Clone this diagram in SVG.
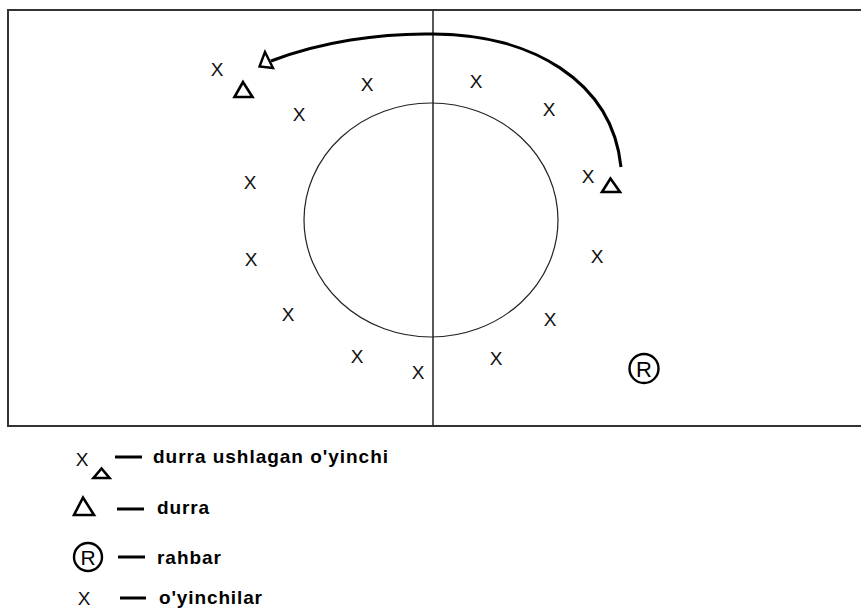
<svg xmlns="http://www.w3.org/2000/svg" width="861" height="608" viewBox="0 0 861 608">
<style>
.x{font-family:"Liberation Sans",Arial,sans-serif;font-size:19px;fill:#111;text-anchor:middle}
.tri{fill:none;stroke:#000;stroke-width:2.6;stroke-linejoin:miter}
.rc{fill:none;stroke:#000;stroke-width:2.4}
.rl{font-family:"Liberation Sans",Arial,sans-serif;font-size:22px;fill:#000;text-anchor:middle}
.dash{stroke:#000;stroke-width:3}
.lt{font-family:"Liberation Sans",Arial,sans-serif;font-size:19px;font-weight:bold;fill:#000}
</style>
<rect width="861" height="608" fill="#fff"/>
<g id="field">
<path d="M870,10 H8 V426 H870" fill="none" stroke="#333" stroke-width="2"/>
<line x1="433" y1="10" x2="433" y2="426" stroke="#222" stroke-width="1.5"/>
<ellipse cx="431" cy="220" rx="127" ry="117" fill="none" stroke="#222" stroke-width="1.2"/>
</g>
<g id="players">
<text class="x" x="217" y="76">X</text>
<text class="x" x="367" y="91">X</text>
<text class="x" x="299" y="121">X</text>
<text class="x" x="250" y="189">X</text>
<text class="x" x="251" y="266">X</text>
<text class="x" x="288" y="321">X</text>
<text class="x" x="357" y="363">X</text>
<text class="x" x="418" y="379">X</text>
<text class="x" x="476" y="88">X</text>
<text class="x" x="549" y="116">X</text>
<text class="x" x="588" y="183">X</text>
<text class="x" x="597" y="263">X</text>
<text class="x" x="550" y="326">X</text>
<text class="x" x="496" y="365">X</text>
</g>
<g id="durra1"><polygon class="tri" points="243,82 234.5,97 252.5,97"/></g>
<g id="durra2"><polygon class="tri" points="610.5,178.5 602,192 620,192"/></g>
<g id="rahbar">
<circle class="rc" cx="644" cy="368.5" r="14.5"/>
<text class="rl" x="644" y="376.5">R</text>
</g>
<g id="connectors">
<path d="M621,167 C612,80 530,34 433,34 C380,33 320,42 271,61" fill="none" stroke="#000" stroke-width="3"/>
<polygon points="265,52 259.5,66.5 273,68" fill="#fff" stroke="#000" stroke-width="2.4" stroke-linejoin="miter"/>
</g>
<g id="legend">
<g id="leg1">
<text class="x" x="82" y="466">X</text>
<polygon class="tri" points="101.5,468.5 93.5,478 109.5,478"/>
<line class="dash" x1="115" y1="457" x2="142" y2="457"/>
<text class="lt" x="153" y="463" textLength="235" lengthAdjust="spacing">durra ushlagan o'yinchi</text>
</g>
<g id="leg2">
<polygon class="tri" points="83,497.5 74,515 94,515"/>
<line class="dash" x1="117" y1="509" x2="144" y2="509"/>
<text class="lt" x="157" y="514" textLength="52" lengthAdjust="spacing">durra</text>
</g>
<g id="leg3">
<circle class="rc" cx="88" cy="557" r="14"/>
<text class="rl" x="88" y="564.5" style="font-size:21px">R</text>
<line class="dash" x1="118" y1="557" x2="145" y2="557"/>
<text class="lt" x="157" y="564" textLength="64" lengthAdjust="spacing">rahbar</text>
</g>
<g id="leg4">
<text class="x" x="84" y="605">X</text>
<line class="dash" x1="120" y1="598" x2="146" y2="598"/>
<text class="lt" x="159" y="604" textLength="103" lengthAdjust="spacing">o'yinchilar</text>
</g>
</g>
</svg>
